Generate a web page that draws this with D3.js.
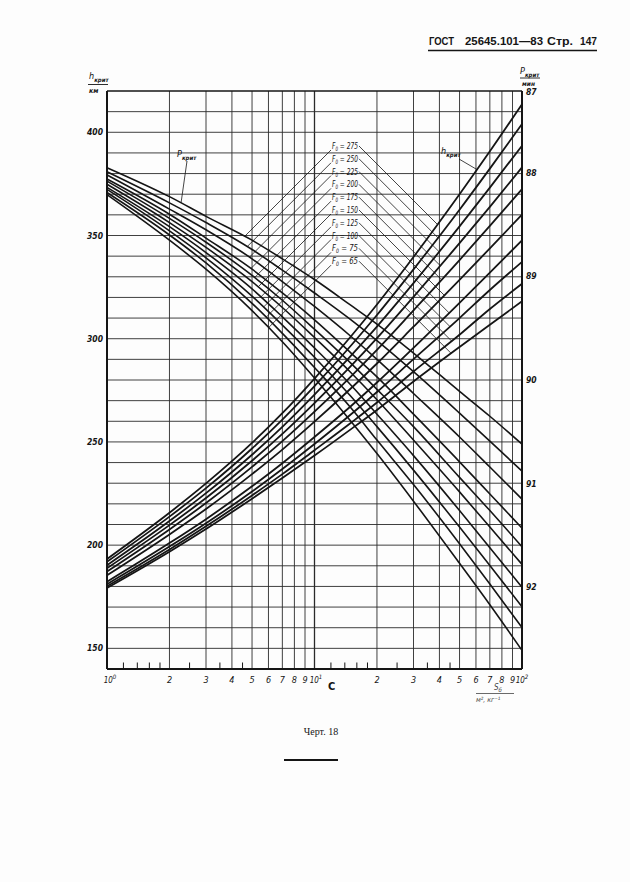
<!DOCTYPE html>
<html><head><meta charset="utf-8">
<script src="https://cdn.jsdelivr.net/npm/d3@7"></script>
<style>
html,body{margin:0;padding:0;background:#fdfdfd;}
svg{display:block;}
</style></head><body>
<svg id="c" width="630" height="882"></svg>
<script>
// ---------- data ----------
const xs = [1, 2, 3, 5, 7, 10, 15, 20, 30, 50, 70, 100];
const F0 = [275, 250, 225, 200, 175, 150, 125, 100, 75, 65];
// P_krit, minutes (right axis), one array per F0 label (same order)
const pCrit = [
  [87.96, 88.24, 88.43, 88.66, 88.84, 89.04, 89.29, 89.47, 89.75, 90.12, 90.36, 90.63],
  [88.00, 88.30, 88.49, 88.75, 88.95, 89.17, 89.43, 89.63, 89.93, 90.33, 90.60, 90.89],
  [88.03, 88.36, 88.56, 88.84, 89.06, 89.30, 89.59, 89.81, 90.14, 90.56, 90.85, 91.16],
  [88.07, 88.41, 88.64, 88.94, 89.17, 89.43, 89.75, 89.98, 90.34, 90.80, 91.11, 91.44],
  [88.09, 88.45, 88.68, 89.00, 89.24, 89.52, 89.85, 90.10, 90.46, 90.95, 91.27, 91.62],
  [88.12, 88.49, 88.73, 89.06, 89.31, 89.60, 89.94, 90.20, 90.59, 91.09, 91.43, 91.79],
  [88.15, 88.53, 88.78, 89.13, 89.40, 89.70, 90.06, 90.34, 90.74, 91.27, 91.63, 92.01],
  [88.17, 88.57, 88.83, 89.20, 89.48, 89.79, 90.17, 90.46, 90.88, 91.43, 91.80, 92.20],
  [88.20, 88.61, 88.88, 89.27, 89.56, 89.89, 90.28, 90.59, 91.02, 91.59, 91.98, 92.40],
  [88.22, 88.66, 88.94, 89.34, 89.64, 89.99, 90.41, 90.72, 91.18, 91.78, 92.18, 92.62]
];
// h_krit, km (left axis)
const hCrit = [
  [193.3, 215.7, 229.9, 249.5, 263.9, 280.7, 301.2, 316.6, 339.6, 370.0, 390.8, 413.6],
  [191.9, 213.8, 227.6, 246.8, 260.8, 277.0, 296.7, 311.5, 333.6, 362.5, 382.4, 404.0],
  [190.3, 211.7, 225.2, 243.8, 257.3, 272.9, 291.8, 305.9, 326.9, 354.4, 373.2, 393.5],
  [188.8, 209.7, 222.8, 240.9, 253.9, 268.8, 286.8, 300.3, 320.3, 346.3, 363.9, 383.0],
  [187.2, 207.6, 220.4, 237.9, 250.4, 264.7, 281.8, 294.6, 313.7, 338.1, 354.7, 372.5],
  [185.4, 205.2, 217.5, 234.4, 246.3, 259.8, 276.0, 288.0, 305.8, 328.5, 343.8, 360.1],
  [182.3, 201.0, 212.6, 228.5, 239.7, 252.4, 267.4, 278.8, 295.6, 317.4, 332.0, 347.7],
  [181.1, 199.3, 210.6, 226.0, 236.9, 249.0, 263.4, 274.2, 290.1, 310.0, 323.6, 337.2],
  [180.1, 197.9, 209.1, 224.1, 234.4, 246.0, 259.3, 269.1, 284.1, 301.9, 314.4, 326.6],
  [179.2, 196.8, 207.8, 222.5, 232.5, 243.4, 256.2, 265.5, 279.3, 296.0, 306.8, 318.1]
];
const xTicks = [1, 2, 3, 4, 5, 6, 7, 8, 9, 10, 20, 30, 40, 50, 60, 70, 80, 90, 100];
const xTickLabels = ["10^0","2","3","4","5","6","7","8","9","10^1","2","3","4","5","6","7","8","9","10^2"];
const xMinor = [1.2, 1.4, 1.6, 1.8, 2.5, 3.5, 4.5, 12, 14, 16, 18, 25, 35, 45];
const hTicks = [150, 200, 250, 300, 350, 400];
const hGrid = d3.range(150, 420, 10);
const pTicks = [87, 88, 89, 90, 91, 92];

// ---------- layout ----------
const Lx = 107, Rx = 522, Ty = 91, By = 669;
const FF = "'DejaVu Sans Condensed','Liberation Sans Narrow','DejaVu Sans',sans-serif";
const INK = "#151515";

const x = d3.scaleLog().domain([1, 100]).range([Lx, Rx]);
const yL = d3.scaleLinear().domain([140, 420]).range([By, Ty]);
const yR = d3.scaleLinear().domain([87.22, 92.8]).range([Ty, By]).clamp(true);

const svg = d3.select("#c");
svg.append("rect").attr("width", 630).attr("height", 882).attr("fill", "#fdfdfd");

// header
const hdr = svg.append("g").attr("font-family", "'Liberation Sans','DejaVu Sans',sans-serif")
  .attr("font-weight", "bold").attr("font-size", 11.5).attr("fill", INK);
[["ГОСТ", 429, 25], ["25645.101—83", 465, 78], ["Стр.", 547, 26], ["147", 580, 17]].forEach(([t, px, w]) => {
  hdr.append("text").attr("x", px).attr("y", 45).attr("textLength", w)
    .attr("lengthAdjust", "spacingAndGlyphs").text(t);
});
svg.append("line").attr("x1", 428).attr("x2", 597).attr("y1", 50.5).attr("y2", 50.5)
  .attr("stroke", INK).attr("stroke-width", 1.6);

// grid
const g = svg.append("g");
g.selectAll(".hg").data(hGrid).join("line")
  .attr("x1", Lx).attr("x2", Rx).attr("y1", d => yL(d)).attr("y2", d => yL(d))
  .attr("stroke", "#2a2a2a").attr("stroke-width", 0.9);
g.selectAll(".vg").data(xTicks.slice(1, -1)).join("line")
  .attr("x1", d => x(d)).attr("x2", d => x(d)).attr("y1", Ty).attr("y2", By)
  .attr("stroke", "#2a2a2a").attr("stroke-width", d => d === 10 ? 1.3 : 0.9);
g.selectAll(".mt").data(xMinor).join("line")
  .attr("x1", d => x(d)).attr("x2", d => x(d)).attr("y1", By).attr("y2", By - 6.5)
  .attr("stroke", INK).attr("stroke-width", 1);

// frame
svg.append("line").attr("x1", Lx).attr("x2", Rx).attr("y1", Ty).attr("y2", Ty).attr("stroke", INK).attr("stroke-width", 1.4);
svg.append("line").attr("x1", Lx).attr("x2", Rx).attr("y1", By).attr("y2", By).attr("stroke", INK).attr("stroke-width", 2);
svg.append("line").attr("x1", Lx).attr("x2", Lx).attr("y1", Ty).attr("y2", By).attr("stroke", INK).attr("stroke-width", 2);
svg.append("line").attr("x1", Rx).attr("x2", Rx).attr("y1", Ty).attr("y2", By).attr("stroke", INK).attr("stroke-width", 2);

// left axis labels
svg.selectAll(".hl").data(hTicks).join("text")
  .attr("x", 103).attr("y", d => yL(d) + 3).attr("text-anchor", "end")
  .attr("font-family", FF).attr("font-style", "italic").attr("font-weight", "bold").attr("font-size", 8.5).attr("fill", INK)
  .text(d => d);
// right axis labels
svg.selectAll(".pl").data(pTicks).join("text")
  .attr("x", 526).attr("y", d => yR(d) + 4).attr("text-anchor", "start")
  .attr("font-family", FF).attr("font-style", "italic").attr("font-weight", "bold").attr("font-size", 8.5).attr("fill", INK)
  .text(d => d);
// bottom labels
const xl = svg.selectAll(".xl").data(xTicks).join("text")
  .attr("x", (d, i) => x(d) + (i === 0 ? 3 : (i === 9 ? 1.5 : 0))).attr("y", 683).attr("text-anchor", "middle")
  .attr("font-family", FF).attr("font-style", "italic").attr("font-size", 9).attr("fill", INK);
xl.each(function (d, i) {
  const parts = xTickLabels[i].split("^");
  const t = d3.select(this);
  t.append("tspan").attr("font-size", parts[1] ? 8 : 9).text(parts[0]);
  if (parts[1]) t.append("tspan").attr("dy", -4).attr("font-size", 6).text(parts[1]);
});

// axis titles
function critLabel(sel, px, py, letter) {
  const t = sel.append("text").attr("x", px).attr("y", py).attr("font-family", FF)
    .attr("font-style", "italic").attr("font-size", 9).attr("fill", INK);
  t.append("tspan").text(letter);
  t.append("tspan").attr("dy", 2.5).attr("font-size", 6).attr("font-weight", "bold").text("крит");
  return t;
}
critLabel(svg, 89, 79, "h");
svg.append("line").attr("x1", 88).attr("x2", 108).attr("y1", 84.5).attr("y2", 84.5).attr("stroke", INK).attr("stroke-width", 0.9);
svg.append("text").attr("x", 89).attr("y", 93).attr("font-family", FF).attr("font-style", "italic")
  .attr("font-size", 7).attr("font-weight", "bold").attr("fill", INK).text("км");
critLabel(svg, 520, 74, "P");
svg.append("line").attr("x1", 520).attr("x2", 540).attr("y1", 78).attr("y2", 78).attr("stroke", INK).attr("stroke-width", 0.9);
svg.append("text").attr("x", 522).attr("y", 85.5).attr("font-family", FF).attr("font-style", "italic")
  .attr("font-size", 6.5).attr("font-weight", "bold").attr("fill", INK).text("мин");

// x unit (lower right)
const xu = svg.append("text").attr("x", 494).attr("y", 690).attr("font-family", FF).attr("font-style", "italic")
  .attr("font-size", 8).attr("fill", "#444");
xu.append("tspan").text("S");
xu.append("tspan").attr("dy", 2).attr("font-size", 6).text("б");
svg.append("line").attr("x1", 476).attr("x2", 514).attr("y1", 693.5).attr("y2", 693.5).attr("stroke", "#444").attr("stroke-width", 0.8);
svg.append("text").attr("x", 476).attr("y", 702).attr("font-family", FF).attr("font-style", "italic")
  .attr("font-size", 7).attr("fill", "#444").text("м², кг⁻¹");
svg.append("text").attr("x", 328).attr("y", 690).attr("font-family", FF).attr("font-weight", "bold")
  .attr("font-size", 11).attr("fill", INK).text("С");

// caption
svg.append("text").attr("x", 321).attr("y", 735).attr("text-anchor", "middle")
  .attr("font-family", "'Liberation Serif','DejaVu Serif',serif").attr("font-size", 10).attr("fill", INK).text("Черт. 18");
svg.append("line").attr("x1", 284).attr("x2", 338).attr("y1", 760).attr("y2", 760).attr("stroke", INK).attr("stroke-width", 1.8);

// curves
const lineP = d3.line().x((d, i) => x(xs[i])).y(d => yR(d)).curve(d3.curveMonotoneX);
const lineH = d3.line().x((d, i) => x(xs[i])).y(d => yL(d)).curve(d3.curveMonotoneX);
const cg = svg.append("g").attr("fill", "none").attr("stroke", INK).attr("stroke-linecap", "round");
const pPaths = pCrit.map(arr => cg.append("path").attr("d", lineP(arr)).attr("stroke-width", 1.6).node());
const hPaths = hCrit.map(arr => cg.append("path").attr("d", lineH(arr)).attr("stroke-width", 1.8).node());

function sample(node) {
  const len = node.getTotalLength(), pts = [];
  for (let s = 0; s <= len; s += 0.5) { const p = node.getPointAtLength(s); pts.push([p.x, p.y]); }
  return pts;
}
const pPts = pPaths.map(sample), hPts = hPaths.map(sample);

function hit(pts, x0, y0, dir) {
  const f = p => p[1] - (y0 + (dir > 0 ? (p[0] - x0) : (x0 - p[0])));
  if (dir < 0) {
    for (let i = pts.length - 1; i > 0; i--) {
      const a = pts[i], b = pts[i - 1];
      if (a[0] > x0) continue;
      const fa = f(a), fb = f(b);
      if ((fa >= 0 && fb < 0) || (fa <= 0 && fb > 0)) { const t = fa / (fa - fb); return [a[0] + t * (b[0] - a[0]), a[1] + t * (b[1] - a[1])]; }
    }
  } else {
    for (let i = 0; i < pts.length - 1; i++) {
      const a = pts[i], b = pts[i + 1];
      if (a[0] < x0) continue;
      const fa = f(a), fb = f(b);
      if ((fa >= 0 && fb < 0) || (fa <= 0 && fb > 0)) { const t = fa / (fa - fb); return [a[0] + t * (b[0] - a[0]), a[1] + t * (b[1] - a[1])]; }
    }
  }
  return null;
}
function atX(pts, xv) { let best = pts[0]; pts.forEach(p => { if (Math.abs(p[0] - xv) < Math.abs(best[0] - xv)) best = p; }); return best; }

// F0 labels + leaders
const lg = svg.append("g");
F0.forEach((f, i) => {
  const yb = 149 + i * 12.8, x0 = 332, w = 26;
  const t = lg.append("text").attr("x", x0).attr("y", yb).attr("font-family", FF)
    .attr("font-style", "italic").attr("font-size", 9).attr("fill", INK);
  t.append("tspan").text("F");
  t.append("tspan").attr("dy", 2).attr("font-size", 6).text("0");
  t.append("tspan").attr("dy", -2).text(" = " + f);
  t.attr("textLength", w).attr("lengthAdjust", "spacingAndGlyphs");
  const sL = [x0 - 1, yb + 1];
  const eL = hit(pPts[i], sL[0], sL[1], -1);
  if (eL) lg.append("line").attr("x1", sL[0]).attr("y1", sL[1]).attr("x2", eL[0]).attr("y2", eL[1])
    .attr("stroke", INK).attr("stroke-width", 0.8);
  const sR = [x0 + w + 1, yb - 3];
  const eR = hit(hPts[i], sR[0], sR[1], 1);
  if (eR) lg.append("line").attr("x1", sR[0]).attr("y1", sR[1]).attr("x2", eR[0]).attr("y2", eR[1])
    .attr("stroke", INK).attr("stroke-width", 0.8);
});
// P_krit / h_krit curve labels
critLabel(svg, 177, 157, "P");
const pe = atX(pPts[0], 181);
svg.append("line").attr("x1", 187).attr("y1", 161).attr("x2", pe[0]).attr("y2", pe[1]).attr("stroke", INK).attr("stroke-width", 0.8);
critLabel(svg, 441, 154, "h");
const he = atX(hPts[0], 477);
svg.append("line").attr("x1", 459).attr("y1", 159).attr("x2", he[0]).attr("y2", he[1]).attr("stroke", INK).attr("stroke-width", 0.8);
</script></body></html>
